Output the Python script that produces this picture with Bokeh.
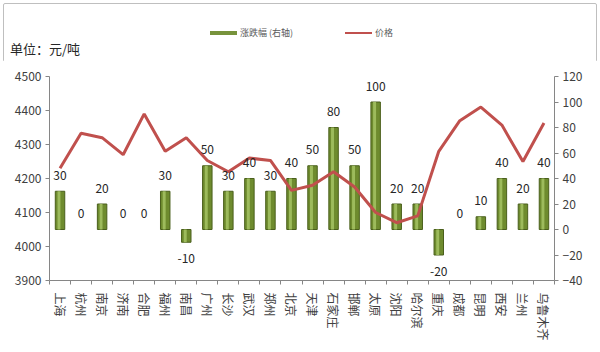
import math
from bokeh.plotting import figure
from bokeh.models import Range1d, LinearAxis, FixedTicker, ColumnDataSource, Div
from bokeh.layouts import column
from bokeh.core.properties import value
from bokeh.embed import file_html
from bokeh.resources import INLINE

cities = ["上海", "杭州", "南京", "济南", "合肥", "福州", "南昌", "广州", "长沙", "武汉", "郑州", "北京",
          "天津", "石家庄", "邯郸", "太原", "沈阳", "哈尔滨", "重庆", "成都", "昆明", "西安", "兰州", "乌鲁木齐"]
change = [30, 0, 20, 0, 0, 30, -10, 50, 30, 40, 30, 40, 50, 80, 50, 100, 20, 20, -20, 0, 10, 40, 20, 40]
price = [4230, 4333, 4320, 4270, 4390, 4280, 4320, 4253, 4220, 4260, 4253, 4165, 4180, 4220, 4175,
         4100, 4070, 4090, 4280, 4370, 4410, 4357, 4250, 4363]
left_ticks = [3900, 4000, 4100, 4200, 4300, 4400, 4500]
right_ticks = [-40, -20, 0, 20, 40, 60, 80, 100, 120]
unit_text = "单位：元/吨"
legend_labels = ["涨跌幅 (右轴)", "价格"]

FONT = "Noto Sans CJK SC"
GRAY = "#868686"
TXT = "#404040"
GREEN = "#77933C"
RED = "#C0504D"

n = len(cities)
xs = [i + 0.5 for i in range(n)]
src = ColumnDataSource(dict(
    x=xs, xh=[v - 0.05 for v in xs], change=change, price=price,
    lab=[str(v) for v in change],
    yoff=[16 if v < 0 else -16 for v in change],
    la=[0 if v == 0 else 1 for v in change],
))

p = figure(width=600, height=292, x_range=Range1d(0, n), y_range=Range1d(3900, 4500),
           output_backend="svg", toolbar_location=None, x_axis_location=None,
           y_axis_location=None, margin=0)
p.min_border_left = 49
p.min_border_right = 46
p.min_border_top = 16
p.min_border_bottom = 72
p.outline_line_color = None
p.xgrid.visible = False
p.ygrid.visible = False
p.background_fill_color = "white"
p.border_fill_color = "white"

p.extra_y_ranges = {"right": Range1d(-40, 120)}

# axes
lax = LinearAxis(ticker=FixedTicker(ticks=left_ticks))
rax = LinearAxis(y_range_name="right", ticker=FixedTicker(ticks=right_ticks))
for ax in (lax, rax):
    ax.axis_line_color = GRAY
    ax.major_tick_line_color = GRAY
    ax.major_tick_in = 0
    ax.major_tick_out = 4
    ax.minor_tick_line_color = None
    ax.major_label_text_font = FONT
    ax.major_label_text_font_size = "12px"
    ax.major_label_text_color = TXT
    ax.major_label_standoff = 4
p.add_layout(lax, "left")
p.add_layout(rax, "right")

tax = LinearAxis(ticker=FixedTicker(ticks=list(range(n + 1))))
tax.axis_line_color = GRAY
tax.major_tick_line_color = GRAY
tax.major_tick_in = 0
tax.major_tick_out = 4
tax.minor_tick_line_color = None
tax.major_label_text_font_size = "0px"
tax.major_label_standoff = 0
tax.major_label_overrides = {i: "" for i in range(n + 1)}
p.add_layout(tax, "below")

cax = LinearAxis(ticker=FixedTicker(ticks=xs))
cax.major_label_overrides = {x: c for x, c in zip(xs, cities)}
cax.axis_line_color = None
cax.major_tick_line_color = None
cax.minor_tick_line_color = None
cax.major_label_orientation = -math.pi / 2
cax.major_label_text_font = FONT
cax.major_label_text_font_size = "12px"
cax.major_label_text_color = TXT
cax.major_label_standoff = 2
p.add_layout(cax, "below")

# bars
p.vbar(x="x", top="change", bottom=0, width=0.45, source=src, y_range_name="right",
       fill_color="#6E8B2E", line_color="#4A5F1C", line_width=1, line_alpha="la")
p.vbar(x="xh", top="change", bottom=0, width=0.14, source=src,
       y_range_name="right", fill_color="#9DBB5C", line_color=None)

# price line
p.line(x="x", y="price", source=src, line_color=RED, line_width=3)

# data labels
p.text(x="x", y="change", text="lab", source=src, y_range_name="right", y_offset="yoff",
       text_align="center", text_baseline="middle", text_font=value(FONT),
       text_font_size="12px", text_color="#262626")

# header: unit label + legend
span = "position:absolute;line-height:1;white-space:nowrap;"
html = (
    f'<div style="position:relative;width:600px;height:60px;font-family:\'{FONT}\';">'
    f'<span style="{span}left:10px;top:42px;font-size:13px;color:#262626;">{unit_text}</span>'
    f'<span style="{span}left:210px;top:31px;width:27px;height:4px;background:{GREEN};"></span>'
    f'<span style="{span}left:240px;top:28px;font-size:9px;color:#595959;">{legend_labels[0]}</span>'
    f'<span style="{span}left:345px;top:32px;width:27px;height:2px;background:{RED};"></span>'
    f'<span style="{span}left:375px;top:28px;font-size:9px;color:#595959;">{legend_labels[1]}</span>'
    '</div>'
)
header = Div(text=html, width=600, height=60, margin=0)

layout = column(header, p, margin=0,
                styles={"outline": "1.5px solid #BFBFBF", "outline-offset": "-4px",
                        "border-radius": "5px"})

open("out.html", "w").write(file_html(layout, INLINE))
